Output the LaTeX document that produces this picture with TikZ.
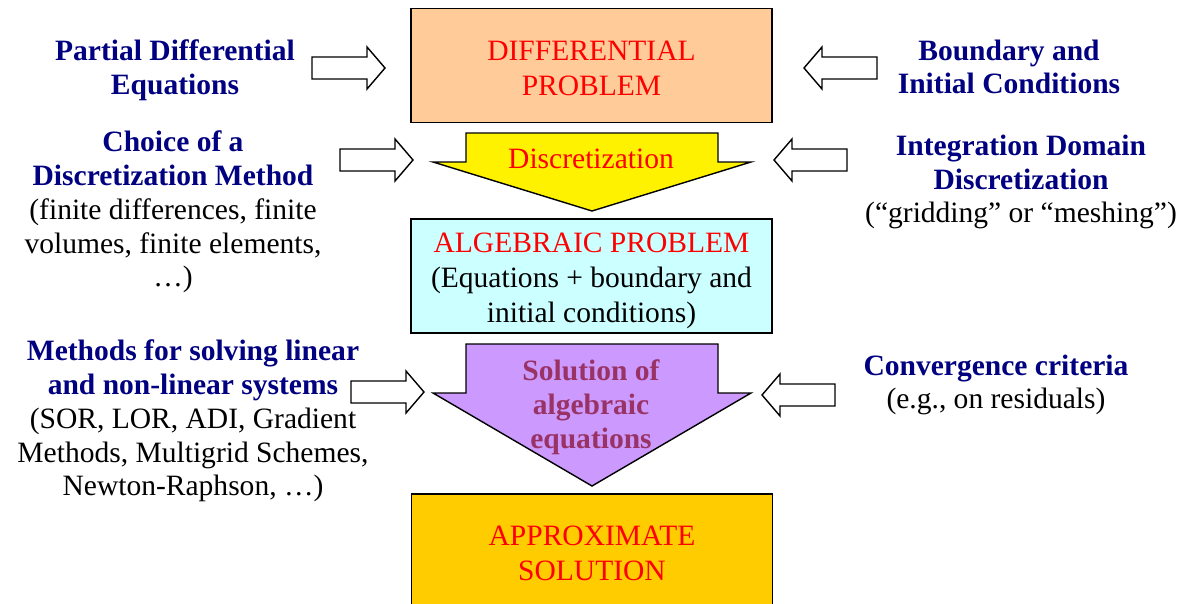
\documentclass[tikz,border=0pt]{standalone}
\usepackage{fontspec}
\setmainfont{Liberation Serif}
\usetikzlibrary{positioning}
\definecolor{navy}{HTML}{000080}
\definecolor{peach}{HTML}{FFCC99}
\definecolor{palecyan}{HTML}{CCFFFF}
\definecolor{lilac}{HTML}{CC99FF}
\definecolor{amber}{HTML}{FFCC00}
\definecolor{plum}{HTML}{993366}
\begin{document}
\begin{tikzpicture}[x=0.025cm,y=-0.025cm,
		box/.style={draw,line width=1.3pt,minimum width=9.025cm,minimum height=2.85cm},
		boxtext/.style={text=red,align=center,font=\fontsize{21}{25}\selectfont},
		head/.style={text=navy,align=center,font=\bfseries\fontsize{21}{24}\selectfont},
		note/.style={align=center,font=\fontsize{21}{24}\selectfont},
		bigarrow/.style={draw,line width=1pt,line join=miter},
		hollow/.pic={\draw[line width=1pt,fill=white] (0,-11) -- (55,-11) -- (55,-21) -- (73,0)
			-- (55,21) -- (55,11) -- (0,11) -- cycle;}]
	
	\useasboundingbox (0,0) rectangle (1184,604);
	
	% main column
	\node[box,fill=peach] (diff) at (591.5,65.5) {};
	\node[boxtext] (difftxt) at (591.5,68) {DIFFERENTIAL\\PROBLEM};
	\draw[bigarrow,fill=yellow] (466,133) -- (718,133) -- (718,162) -- (751,162) -- (592,211)
		-- (433,162) -- (466,162) -- cycle;
	\node[boxtext] (disc) at (591,159) {Discretization};
	\node[box,fill=palecyan] (alg) at (591.5,276) {};
	\node[boxtext] (algtxt) at (591.5,281) {ALGEBRAIC PROBLEM\\
		\textcolor{black}{(Equations + boundary and}\\\textcolor{black}{initial conditions)}};
	\draw[bigarrow,fill=lilac] (466,344) -- (718,344) -- (718,393) -- (751,393) -- (592,486)
		-- (433,393) -- (466,393) -- cycle;
	\node[text=plum,align=center,font=\bfseries\fontsize{21}{24}\selectfont] (sol) at (591,407)
		{Solution of\\algebraic\\equations};
	\node[box,fill=amber,minimum height=2.9cm] (approx) at (592,552) {};
	\node[boxtext] (approxtxt) at (592,553) {APPROXIMATE\\SOLUTION};
	
	% inputs on the left
	\node[head] (pde) at (175,70) {Partial Differential\\Equations};
	\node[note] (method) at (173,212) {\textcolor{navy}{\bfseries Choice of a}\\
		\textcolor{navy}{\bfseries Discretization Method}\\(finite differences, finite\\
		volumes, finite elements,\\\dots)};
	\node[note] (solver) at (193,421) {\textcolor{navy}{\bfseries Methods for solving linear}\\
		\textcolor{navy}{\bfseries and non-linear systems}\\(SOR, LOR, ADI, Gradient\\
		Methods, Multigrid Schemes,\\Newton-Raphson, \dots)};
	
	% inputs on the right
	\node[head] (bc) at (1009,67) {Boundary and\\Initial Conditions};
	\node[note] (grid) at (1021,182) {\textcolor{navy}{\bfseries Integration Domain}\\
		\textcolor{navy}{\bfseries Discretization}\\(“gridding” or “meshing”)};
	\node[note] (conv) at (996,385) {\textcolor{navy}{\bfseries Convergence criteria}\\
		(e.g., on residuals)};
	
	% hollow arrows
	\pic at (312,68) {hollow};
	\pic at (340,160) {hollow};
	\pic at (351,392) {hollow};
	\pic[rotate=180] at (877,68) {hollow};
	\pic[rotate=180] at (847,160) {hollow};
	\pic[rotate=180] at (835,395) {hollow};
\end{tikzpicture}
\end{document}
